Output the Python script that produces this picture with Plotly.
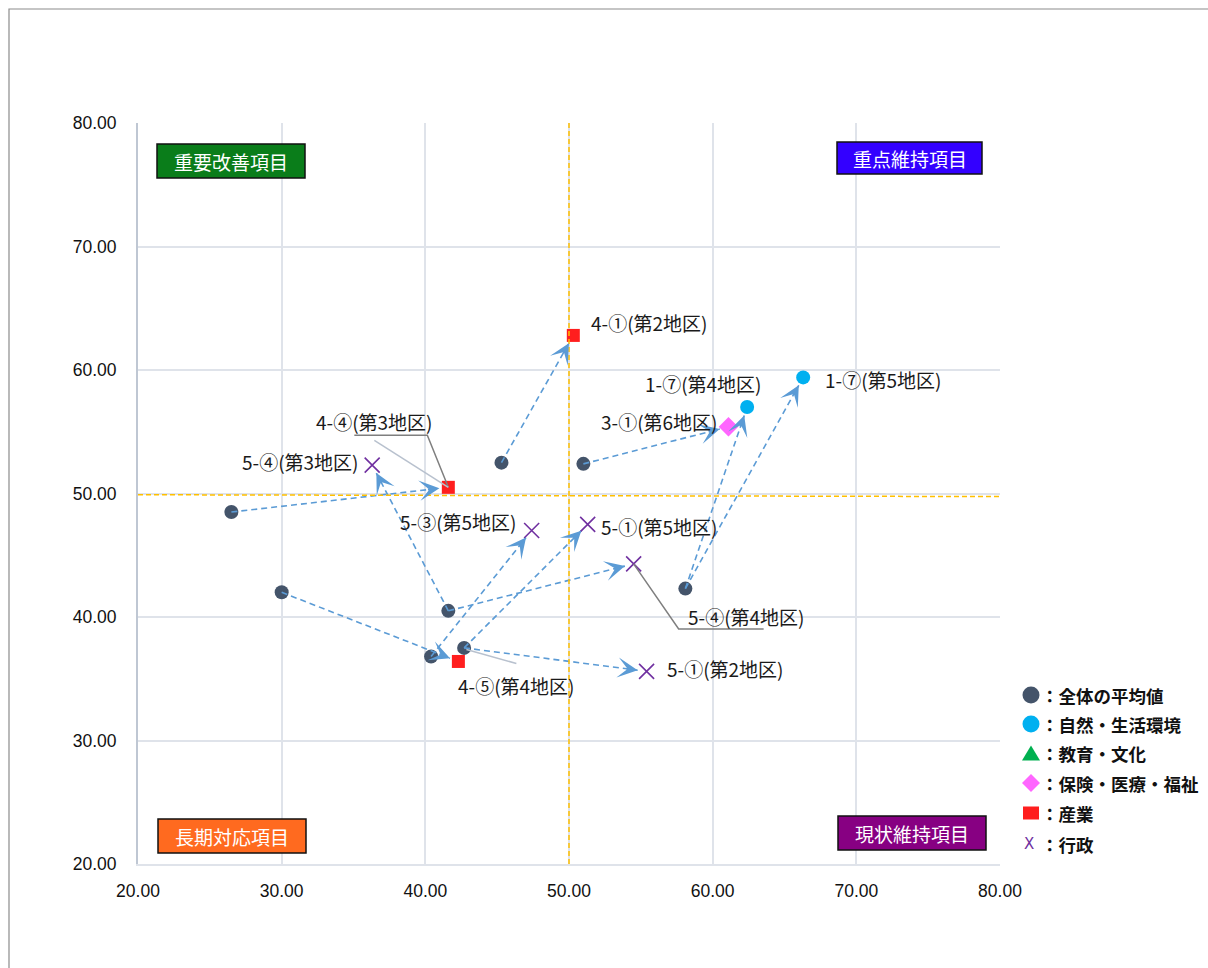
import math
import plotly.graph_objects as go

# ---- canvas / plot-area geometry ----
FIG_W, FIG_H = 1208, 968
M_L, M_R, M_T, M_B = 138, 208, 123, 104
X_RANGE = [20, 80]
Y_RANGE = [20, 80]
TICK_VALS = [20, 30, 40, 50, 60, 70, 80]
TICK_TEXT = ["20.00", "30.00", "40.00", "50.00", "60.00", "70.00", "80.00"]

# ---- data ----
# 全体の平均値
avg_x = [26.5, 30.0, 45.3, 51.0, 41.6, 40.4, 42.7, 58.1]
avg_y = [48.5, 42.0, 52.5, 52.4, 40.5, 36.8, 37.5, 42.3]

# 自然・生活環境
env_labels = ["1-⑦(第4地区)", "1-⑦(第5地区)"]
env_x = [62.4, 66.3]
env_y = [57.0, 59.4]

# 保険・医療・福祉
welfare_labels = ["3-①(第6地区)"]
welfare_x = [61.1]
welfare_y = [55.4]

# 産業
ind_labels = ["4-①(第2地区)", "4-④(第3地区)", "4-⑤(第4地区)"]
ind_x = [50.3, 41.6, 42.3]
ind_y = [62.8, 50.5, 36.4]

# 行政
adm_labels = ["5-④(第3地区)", "5-③(第5地区)", "5-①(第5地区)", "5-④(第4地区)", "5-①(第2地区)"]
adm_x = [36.3, 47.4, 51.3, 54.5, 55.4]
adm_y = [52.3, 47.0, 47.5, 44.3, 35.6]

# movement arrows: index into the average points -> destination label
arrow_from = [0, 1, 2, 3, 4, 4, 5, 6, 6, 7, 7]
arrow_to = ["4-④(第3地区)", "4-⑤(第4地区)", "4-①(第2地区)", "3-①(第6地区)",
            "5-④(第3地区)", "5-④(第4地区)", "5-③(第5地区)", "5-①(第5地区)",
            "5-①(第2地区)", "1-⑦(第4地区)", "1-⑦(第5地区)"]

# quadrant dividers
mid_x = [50.0, 50.0]
mid_x_y = [20, 80]
mid_y_x = [20, 80]
mid_y = [49.9, 49.75]

quadrant_names = ["重要改善項目", "重点維持項目", "長期対応項目", "現状維持項目"]
legend_texts = ["：全体の平均値", "：自然・生活環境", "：教育・文化",
                "：保険・医療・福祉", "：産業", "：行政"]

# ---- colours ----
C_AVG = "#44546A"
C_ENV = "#00B0F0"
C_EDU = "#00B050"
C_WEL = "#FF66FF"
C_IND = "#FF1E1E"
C_ADM = "#7030A0"
C_ARROW = "#5B9BD5"
C_MID = "#FFC000"
JP_FONT = "Noto Sans CJK JP"

plot_w = FIG_W - M_L - M_R
plot_h = FIG_H - M_T - M_B
sx = plot_w / (X_RANGE[1] - X_RANGE[0])
sy = plot_h / (Y_RANGE[1] - Y_RANGE[0])


def px(xp):
    return (xp - M_L) / plot_w


def py(yp):
    return (FIG_H - M_B - yp) / plot_h


targets = {}
for lab, x, y in zip(env_labels, env_x, env_y):
    targets[lab] = (x, y)
for lab, x, y in zip(welfare_labels, welfare_x, welfare_y):
    targets[lab] = (x, y)
for lab, x, y in zip(ind_labels, ind_x, ind_y):
    targets[lab] = (x, y)
for lab, x, y in zip(adm_labels, adm_x, adm_y):
    targets[lab] = (x, y)

fig = go.Figure()

# average points
fig.add_trace(go.Scatter(x=avg_x, y=avg_y, mode="markers",
                         marker=dict(color=C_AVG, size=14), hoverinfo="skip"))

# dashed movement lines + arrowheads
STANDOFF = 9
annotations = []
for i, lab in zip(arrow_from, arrow_to):
    x0, y0 = avg_x[i], avg_y[i]
    x1, y1 = targets[lab]
    dxp = (x1 - x0) * sx
    dyp = -(y1 - y0) * sy
    L = math.hypot(dxp, dyp)
    ux, uy = dxp / L, dyp / L
    ex = x1 - ux * STANDOFF / sx
    ey = y1 + uy * STANDOFF / sy
    fig.add_trace(go.Scatter(x=[x0, ex], y=[y0, ey], mode="lines",
                             line=dict(color=C_ARROW, width=1.6, dash="6px,4px"),
                             hoverinfo="skip"))
    tail = 22
    annotations.append(dict(x=x1, y=y1, xref="x", yref="y", text="",
                            showarrow=True, arrowhead=3, arrowsize=2.1,
                            arrowwidth=1.6, arrowcolor=C_ARROW,
                            standoff=STANDOFF, ax=-ux * tail, ay=-uy * tail))

# category markers
fig.add_trace(go.Scatter(x=env_x, y=env_y, mode="markers",
                         marker=dict(color=C_ENV, size=14), hoverinfo="skip"))
fig.add_trace(go.Scatter(x=welfare_x, y=welfare_y, mode="markers",
                         marker=dict(color=C_WEL, size=15, symbol="diamond"),
                         hoverinfo="skip"))
fig.add_trace(go.Scatter(x=ind_x, y=ind_y, mode="markers",
                         marker=dict(color=C_IND, size=13, symbol="square"),
                         hoverinfo="skip"))
fig.add_trace(go.Scatter(x=adm_x, y=adm_y, mode="markers",
                         marker=dict(color=C_ADM, size=15, symbol="x-thin-open",
                                     line=dict(color=C_ADM, width=1.6)),
                         hoverinfo="skip"))

# quadrant dividers
fig.add_trace(go.Scatter(x=mid_x, y=mid_x_y, mode="lines",
                         line=dict(color=C_MID, width=1.5, dash="5px,3px"),
                         hoverinfo="skip"))
fig.add_trace(go.Scatter(x=mid_y_x, y=mid_y, mode="lines",
                         line=dict(color=C_MID, width=1.5, dash="5px,3px"),
                         hoverinfo="skip"))

# data labels: (xanchor, xshift, yshift) in pixels from the marker
label_pos = {
    "4-①(第2地区)": ("left", 16, 13),
    "1-⑦(第5地区)": ("left", 20, -2),
    "1-⑦(第4地区)": ("center", -44, 24),
    "3-①(第6地区)": ("right", -8, 5),
    "4-④(第3地区)": ("center", -74, 66),
    "5-④(第3地区)": ("right", -11, 4),
    "5-③(第5地区)": ("right", -13, 9),
    "5-①(第5地区)": ("left", 11, -2),
    "5-④(第4地区)": ("left", 52, -53),
    "5-①(第2地区)": ("left", 18, 3),
    "4-⑤(第4地区)": ("center", 58, -24),
}
for lab, (x, y) in targets.items():
    xa, xs, ys = label_pos[lab]
    annotations.append(dict(x=x, y=y, xref="x", yref="y", text=lab,
                            showarrow=False, xanchor=xa, yanchor="middle",
                            xshift=xs, yshift=ys,
                            font=dict(family=JP_FONT, size=19, color="#1a1a1a")))

shapes = []

# leader lines (pixel offsets from the labelled marker)
leaders = [
    ("4-④(第3地区)", "M0,0 L-21,52 L-94,52", "#7f7f7f"),
    ("4-④(第3地区)", "M0,0 L-74,47", "#B8C1CE"),
    ("5-④(第4地区)", "M0,0 L45,-65 L130,-65", "#7f7f7f"),
    ("4-⑤(第4地区)", "M8,12 L58,-2", "#B8C1CE"),
]
for lab, path, col in leaders:
    x, y = targets[lab]
    shapes.append(dict(type="path", xref="x", yref="y", xsizemode="pixel",
                       ysizemode="pixel", xanchor=x, yanchor=y, path=path,
                       line=dict(color=col, width=1.5), layer="above"))

# quadrant title boxes
box_px = [(157, 144, 305, 178), (837, 142, 982, 174),
          (158, 819, 306, 853), (838, 816, 986, 850)]
box_fill = ["#0A7D1A", "#3300FF", "#FF6A1F", "#870082"]
for name, (bx0, by0, bx1, by1), fc in zip(quadrant_names, box_px, box_fill):
    shapes.append(dict(type="rect", xref="paper", yref="paper",
                       x0=px(bx0), x1=px(bx1), y0=py(by1), y1=py(by0),
                       fillcolor=fc, line=dict(color="#111111", width=1.5),
                       layer="above"))
    annotations.append(dict(x=px((bx0 + bx1) / 2), y=py((by0 + by1) / 2),
                            xref="paper", yref="paper", text=name,
                            showarrow=False, xanchor="center", yanchor="middle",
                            font=dict(family=JP_FONT, size=19, color="white")))

# legend keys
leg_rows = [695, 724, 753, 783, 813, 844]
leg_cx = 1031
key_kinds = [("circle", C_AVG), ("circle", C_ENV), ("tri", C_EDU),
             ("diamond", C_WEL), ("square", C_IND), ("x", C_ADM)]
for (kind, col), ry in zip(key_kinds, leg_rows):
    common = dict(xref="paper", yref="paper", xsizemode="pixel",
                  ysizemode="pixel", xanchor=px(leg_cx), yanchor=py(ry),
                  fillcolor=col, line=dict(width=0))
    if kind == "circle":
        shapes.append(dict(type="circle", x0=-8.5, x1=8.5, y0=-8.5, y1=8.5,
                           **common))
    elif kind == "tri":
        shapes.append(dict(type="path", path="M-9,-7.5 L9,-7.5 L0,7.5 Z",
                           **common))
    elif kind == "diamond":
        shapes.append(dict(type="path", path="M0,-9 L9,0 L0,9 L-9,0 Z",
                           **common))
    elif kind == "square":
        shapes.append(dict(type="rect", x0=-8, x1=8, y0=-6.5, y1=6.5,
                           **common))
    else:
        annotations.append(dict(x=px(leg_cx - 2), y=py(ry), xref="paper",
                                yref="paper", text="X", showarrow=False,
                                xanchor="center", yanchor="middle",
                                font=dict(family="DejaVu Sans", size=15,
                                          color=col)))
for txt, ry in zip(legend_texts, leg_rows):
    annotations.append(dict(x=px(1039), y=py(ry), xref="paper", yref="paper",
                            text="<b>" + txt + "</b>", showarrow=False,
                            xanchor="left", yanchor="middle",
                            font=dict(family=JP_FONT, size=17.5, color="#111111")))

# outer chart border
shapes.append(dict(type="rect", xref="paper", yref="paper",
                   x0=px(9), x1=px(FIG_W + 20), y0=py(FIG_H + 20), y1=py(9),
                   line=dict(color="#8c8c8c", width=1.2), fillcolor="rgba(0,0,0,0)",
                   layer="below"))

axis_common = dict(range=X_RANGE, tickvals=TICK_VALS, ticktext=TICK_TEXT,
                   showgrid=True, gridcolor="#DFE3EA", gridwidth=1.5,
                   zeroline=False, ticks="",
                   tickfont=dict(family="Liberation Sans", size=17.5, color="#111111"))

fig.update_layout(
    width=FIG_W, height=FIG_H, autosize=False,
    margin=dict(l=M_L, r=M_R, t=M_T, b=M_B, pad=0),
    paper_bgcolor="white", plot_bgcolor="white",
    showlegend=False,
    xaxis=dict(**axis_common, showline=True, linecolor="#DFE3EA", linewidth=1.5,
               ticklabelstandoff=10),
    yaxis=dict(**{**axis_common, "range": Y_RANGE}, showline=True,
               linecolor="#BFC7D3", linewidth=2, ticklabelstandoff=16),
    annotations=annotations,
    shapes=shapes,
)

fig.write_html("out.html")
